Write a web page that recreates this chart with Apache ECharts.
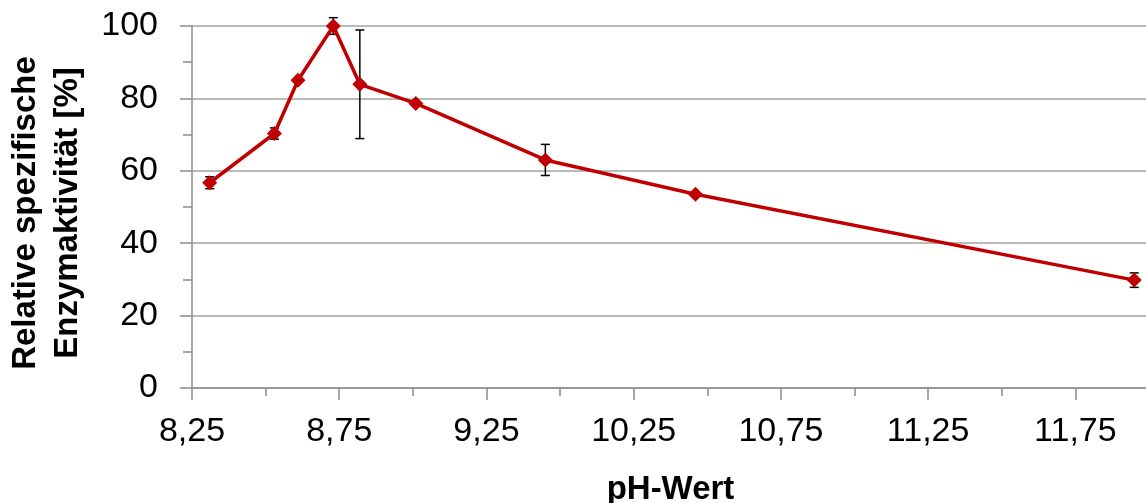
<!DOCTYPE html>
<html>
<head>
<meta charset="utf-8">
<script src="https://cdn.jsdelivr.net/npm/echarts@6/dist/echarts.min.js"></script>
<style>
  html, body { margin: 0; padding: 0; background: #fff; }
  #chart { width: 1146px; height: 503px; }
</style>
</head>
<body>
<div id="chart"></div>
<script>
// pH positions of the measurements along the x axis
const phValues = [8.31, 8.53, 8.61, 8.73, 8.82, 9.01, 9.45, 9.96, 11.45];
// relative specific enzyme activity [%]
const activity = [56.7, 70.3, 85.0, 100.0, 83.9, 78.6, 63.0, 53.5, 29.8];
// standard deviation (symmetric error bars)
const errors = [1.65, 1.55, 0, 2.3, 15.0, 0, 4.3, 0, 2.0];
// labels shown at the major x ticks, starting at the axis minimum
const xTickLabels = ['8,25', '8,75', '9,25', '10,25', '10,75', '11,25', '11,75'];
const yTicks = [0, 20, 40, 60, 80, 100];

const X_MIN = 8.25, X_MAX = 11.5, X_STEP = 0.5;

const font = "'Liberation Sans', Arial, Helvetica, sans-serif";
const axisGray = '#8c8c8c';
const gridGray = '#a3a3a3';
const red = '#c00000';

const points = phValues.map((x, i) => [x, activity[i]]);
const errData = phValues.map((x, i) => [x, activity[i] - errors[i], activity[i] + errors[i]]);

function xLabel(v) {
  const k = (v - X_MIN) / X_STEP;
  const idx = Math.round(k);
  if (Math.abs(k - idx) > 1e-6) return '';
  return xTickLabels[idx] || '';
}

const chart = echarts.init(document.getElementById('chart'), null, { renderer: 'canvas' });

chart.setOption({
  animation: false,
  backgroundColor: '#ffffff',
  grid: { left: 192, right: -3, top: 26, bottom: 115, containLabel: false, outerBoundsMode: 'none' },
  xAxis: [
    {
      type: 'value',
      min: X_MIN,
      max: X_MAX,
      interval: 0.25,
      axisLine: { show: true, lineStyle: { color: axisGray, width: 1.5 } },
      axisTick: { show: true, inside: false, length: 8, lineStyle: { color: axisGray, width: 1.5 } },
      splitLine: { show: false },
      axisLabel: {
        show: true,
        margin: 27,
        fontFamily: font,
        fontSize: 34,
        color: '#000',
        formatter: xLabel
      },
      name: 'pH-Wert',
      nameLocation: 'middle',
      nameGap: 85,
      nameTextStyle: { fontFamily: font, fontSize: 33, fontWeight: 'bold', color: '#000' }
    },
    {
      // longer ticks at the labelled positions
      type: 'value',
      position: 'bottom',
      min: X_MIN,
      max: X_MAX,
      interval: X_STEP,
      axisLine: { show: false },
      axisTick: { show: true, inside: false, length: 12, lineStyle: { color: axisGray, width: 1.5 } },
      axisLabel: { show: false },
      splitLine: { show: false }
    }
  ],
  yAxis: {
    type: 'value',
    min: 0,
    max: 100,
    interval: 20,
    axisLine: { show: true, lineStyle: { color: axisGray, width: 1.5 } },
    axisTick: { show: true, inside: false, length: 12, lineStyle: { color: axisGray, width: 1.5 } },
    minorTick: { show: true, splitNumber: 2, length: 9, lineStyle: { color: axisGray, width: 1.5 } },
    splitLine: {
      show: true,
      lineStyle: { color: gridGray, width: 1.5 }
    },
    axisLabel: {
      margin: 34,
      fontFamily: font,
      fontSize: 34,
      color: '#000',
      formatter: v => (yTicks.indexOf(v) >= 0 ? String(v) : '')
    },
    name: 'Relative spezifische\nEnzymaktivität [%]',
    nameLocation: 'middle',
    nameRotate: 90,
    nameGap: 103,
    nameTextStyle: {
      fontFamily: font, fontSize: 33, fontWeight: 'bold', color: '#000',
      lineHeight: 42, padding: [0, 12, 0, 0]
    }
  },
  series: [
    {
      type: 'custom',
      name: 'Standardabweichung',
      xAxisIndex: 0,
      z: 1,
      data: errData,
      renderItem: function (params, api) {
        const x = api.value(0), lo = api.value(1), hi = api.value(2);
        if (hi - lo <= 0) return { type: 'group', children: [] };
        const pLo = api.coord([x, lo]);
        const pHi = api.coord([x, hi]);
        const cap = 4.5;
        const style = { stroke: '#000', lineWidth: 1.5 };
        return {
          type: 'group',
          children: [
            { type: 'line', shape: { x1: pLo[0], y1: pLo[1], x2: pHi[0], y2: pHi[1] }, style },
            { type: 'line', shape: { x1: pHi[0] - cap, y1: pHi[1], x2: pHi[0] + cap, y2: pHi[1] }, style },
            { type: 'line', shape: { x1: pLo[0] - cap, y1: pLo[1], x2: pLo[0] + cap, y2: pLo[1] }, style }
          ]
        };
      }
    },
    {
      type: 'line',
      name: 'Aktivität',
      xAxisIndex: 0,
      z: 3,
      data: points,
      symbol: 'diamond',
      symbolSize: 15,
      showSymbol: true,
      lineStyle: { color: red, width: 3.5 },
      itemStyle: { color: red, borderWidth: 0 }
    }
  ]
});
</script>
</body>
</html>
